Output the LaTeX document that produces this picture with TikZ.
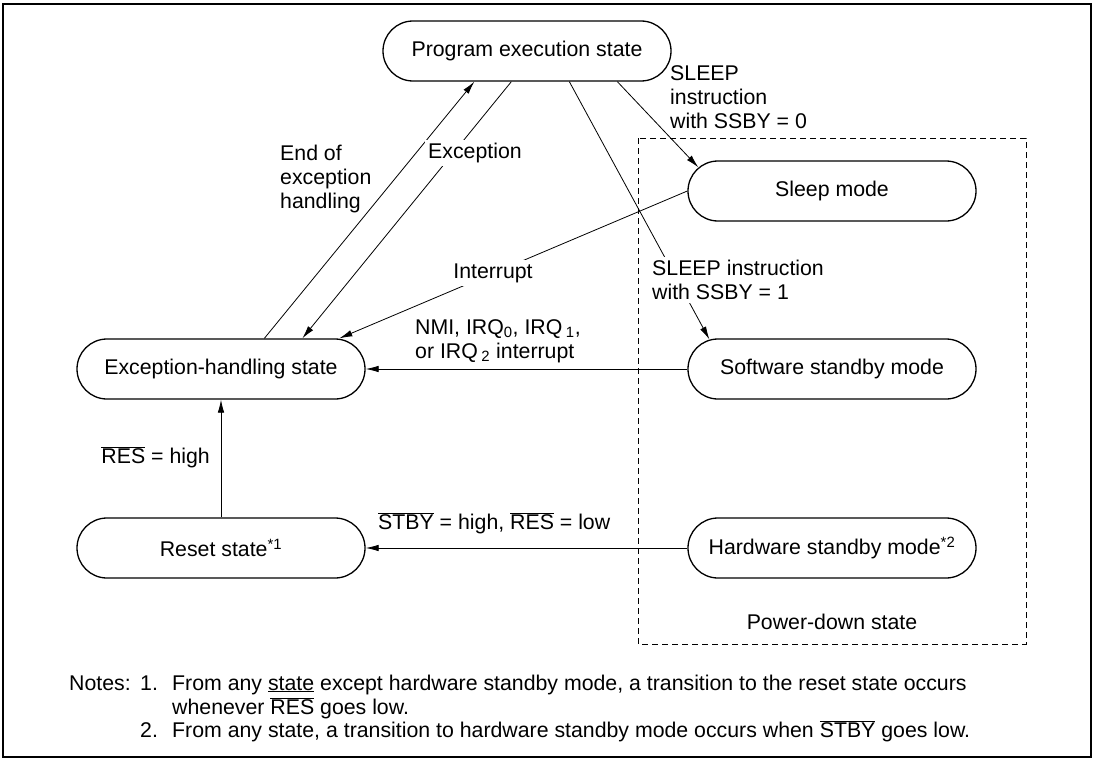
\documentclass[tikz,border=0pt]{standalone}
\usepackage{fontspec}
\setmainfont{Liberation Sans}
\usetikzlibrary{arrows.meta}

\newcommand{\ovl}[1]{$\overline{\mbox{#1}}$}

\tikzset{
    statebox/.style={rectangle, draw, line width=1.3pt, rounded corners=30pt,
        minimum width=288pt, minimum height=60pt, inner sep=0pt},
    trans/.style={-{Latex[length=13pt,width=6.5pt]}, line width=0.8pt},
    lbl/.style={align=left, inner sep=0pt},
    cutlbl/.style={align=left, inner sep=3pt, fill=white},
}

\begin{document}
\begin{tikzpicture}[x=1pt, y=-1pt, font=\fontsize{21.3}{24.2}\selectfont]
            % \draw[step=50,gray!30,very thin] (0,0) grid (1098,760);
            \useasboundingbox (0,0) rectangle (1098,760);

            \draw[line width=2pt] (3,4) rectangle (1091,757);
            \draw[dash pattern=on 6pt off 4pt, line width=0.8pt] (638,138) rectangle (1026,644);

            \node[statebox] (prog)   at ( 527 , 51 )  {Program execution state};
            \node[statebox] (exc)    at ( 221 , 369 ) {Exception-handling state};
            \node[statebox] (reset)  at ( 221 , 548 ) {Reset state\textsuperscript{*1}};
            \node[statebox] (sleep)  at ( 832 , 191 ) {Sleep mode};
            \node[statebox] (soft)   at ( 832 , 369 ) {Software standby mode};
            \node[statebox] (hard)   at ( 832 , 548 ) {Hardware standby mode\textsuperscript{*2}};

            \draw[trans] ([xshift=188pt]exc.north west) -- ([xshift=92pt]prog.south west);
            \draw[trans] ([xshift=129pt]prog.south west) -- ([xshift=226pt]exc.north west);
            \draw[trans] ([xshift=235pt]prog.south west) -- ([xshift=11pt,yshift=-7pt]sleep.north west);
            \draw[trans] ([xshift=187pt]prog.south west) -- ([xshift=22pt,yshift=-1pt]soft.north west);
            \draw[trans] (sleep.west) -- ([xshift=263pt]exc.north west);
            \draw[trans] (soft.west) -- (exc.east);
            \draw[trans] (hard.west) -- (reset.east);
            \draw[trans] (reset.north) -- (exc.south);

            \node[lbl, anchor=west] (eoeh)   at ( 280 , 179 ) {End of\\exception\\handling};
            \node[cutlbl] (exclbl)           at ( 475 , 153 ) {Exception};
            \node[cutlbl] (intlbl)           at ( 493 , 273 ) {Interrupt};
            \node[lbl, anchor=west] (ssby0)  at ( 670 , 97 )  {SLEEP\\instruction\\with SSBY = 0};
            \node[cutlbl, anchor=west] (ssby1) at ( 649 , 280 ) {SLEEP instruction\\with SSBY = 1};
            \node[lbl, anchor=west] (nmi)    at ( 415 , 341 ) {NMI, IRQ\textsubscript{0}, IRQ\,\textsubscript{1},\\or IRQ\,\textsubscript{2} interrupt};
            \node[lbl, anchor=east] (reshigh) at ( 210 , 457 ) {\ovl{RES} = high};
            \node[lbl, anchor=west] (stby)   at ( 378 , 523 ) {\ovl{STBY} = high, \ovl{RES} = low};
            \node[lbl] (pwr)                 at ( 832 , 622 ) {Power-down state};

            \node[lbl, anchor=base west] (notes) at ( 69 , 690 )  {Notes:};
            \node[lbl, anchor=base west] (n1)    at ( 140 , 690 ) {1.};
            \node[lbl, anchor=base west] (n1a)   at ( 172 , 690 ) {From any \underline{state} except hardware standby mode, a transition to the reset state occurs};
            \node[lbl, anchor=base west] (n1b)   at ( 172 , 714 ) {whenever \ovl{RES} goes low.};
            \node[lbl, anchor=base west] (n2)    at ( 140 , 737 ) {2.};
            \node[lbl, anchor=base west] (n2a)   at ( 172 , 737 ) {From any state, a transition to hardware standby mode occurs when \ovl{STBY} goes low.};
\end{tikzpicture}
\end{document}
